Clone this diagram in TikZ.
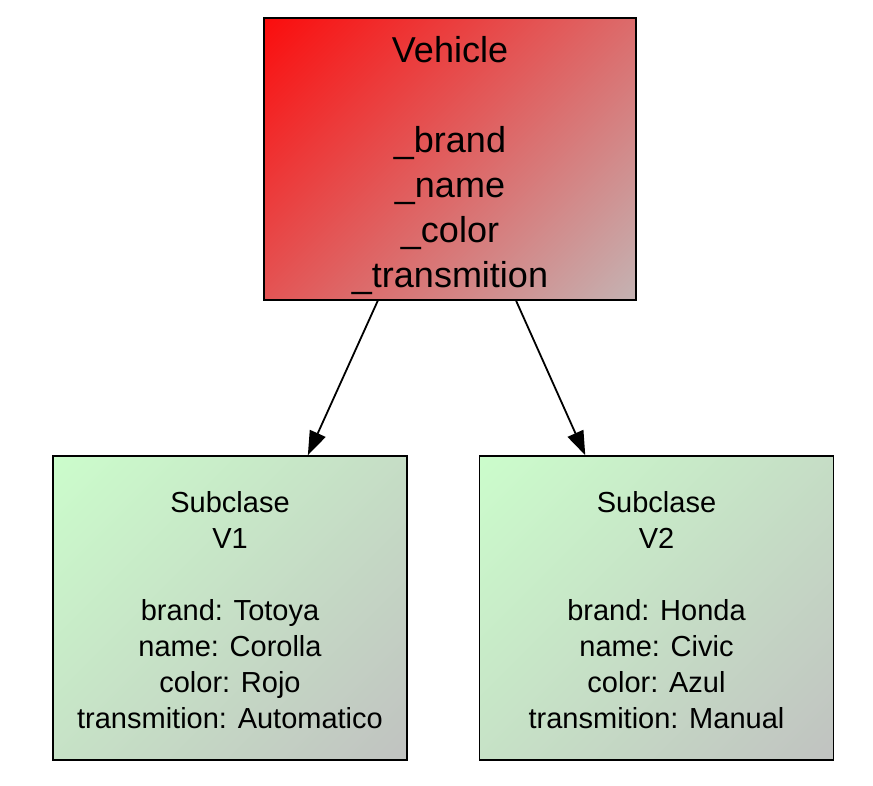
\documentclass[tikz,border=0pt]{standalone}
\usepackage{fontspec}
\setmainfont{Liberation Sans}
\usepackage{xcolor}
\usetikzlibrary{arrows.meta}
\definecolor{hot}{HTML}{FF0000}
\definecolor{silver}{HTML}{C0C0C0}
\definecolor{mint}{HTML}{CCFFCC}
% corner-to-corner fades
\pgfdeclareverticalshading{redfade}{100bp}{color(0bp)=(silver); color(9bp)=(silver); color(91bp)=(hot); color(100bp)=(hot)}
\pgfdeclareverticalshading{mintfade}{100bp}{color(0bp)=(silver); color(11.75bp)=(silver); color(88.25bp)=(mint); color(100bp)=(mint)}
\tikzset{
  box/.style={draw=black, line width=1.6pt, inner sep=0pt, align=center},
  cls/.style={box, shade, shading=redfade, shading angle=45,
    minimum width=372pt, minimum height=282pt, font=\fontsize{36}{45}\selectfont},
  sub/.style={box, shade, shading=mintfade, shading angle=45,
    minimum width=354pt, minimum height=304pt, font=\fontsize{29}{36}\selectfont},
  link/.style={draw=black, line width=1.8pt, -{Triangle[length=24pt,width=17pt]}},
}
\begin{document}
\begin{tikzpicture}[x=1pt, y=-1pt]
  \useasboundingbox (0,0) rectangle (873,785);

  % parent class
  \node[cls] (veh) at (450,159) {\rule{0pt}{39pt}Vehicle\\[45pt]\_brand\\\_name\\\_color\\\_transmition};

  % two instances
  \node[sub] (v1) at (230,608) {\rule{0pt}{26pt}Subclase\\V1\\[36pt]brand: Totoya\\name: Corolla\\color: Rojo\\transmition: Automatico};
  \node[sub] (v2) at (656.5,608) {\rule{0pt}{26pt}Subclase\\V2\\[36pt]brand: Honda\\name: Civic\\color: Azul\\transmition: Manual};

  % edges
  \draw[link] (veh.243.6) -- (v1.63.1);
  \draw[link] (veh.295.1) -- (v2.115.2);
\end{tikzpicture}
\end{document}
